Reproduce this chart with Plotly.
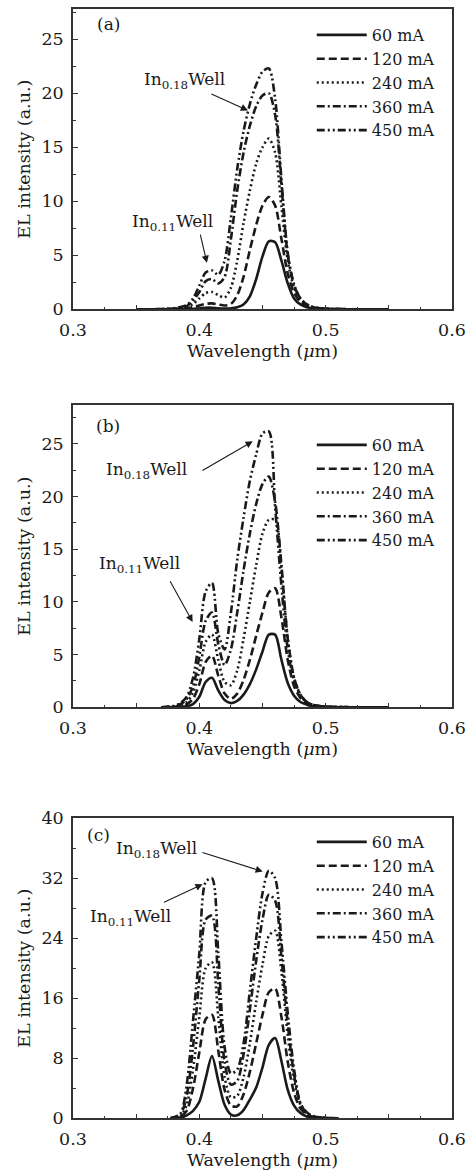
import plotly.graph_objects as go

currents = ["60 mA", "120 mA", "240 mA", "360 mA", "450 mA"]

# ---------- panel (a) ----------
xa = [0.35, 0.37, 0.38, 0.39, 0.395, 0.40, 0.405, 0.41, 0.415, 0.42, 0.425, 0.43, 0.435,
      0.44, 0.445, 0.45, 0.455, 0.46, 0.465, 0.47, 0.475, 0.48, 0.485, 0.49, 0.50, 0.52, 0.55]
a_60 = [0, 0, 0, 0.02, 0.05, 0.1, 0.15, 0.15, 0.1, 0.08, 0.1, 0.2, 0.45,
        1.2, 2.8, 4.9, 6.3, 6.2, 4.5, 2.4, 1.0, 0.45, 0.2, 0.1, 0.03, 0, 0]
a_120 = [0, 0, 0.02, 0.1, 0.2, 0.35, 0.5, 0.55, 0.45, 0.35, 0.5, 1.3, 3.0,
         5.5, 7.8, 9.6, 10.4, 9.6, 6.5, 3.3, 1.5, 0.7, 0.3, 0.15, 0.05, 0, 0]
a_240 = [0, 0.02, 0.05, 0.2, 0.5, 1.0, 1.5, 1.6, 1.3, 1.1, 2.0, 4.5, 8.0,
         11.0, 13.5, 15.0, 15.8, 14.5, 9.5, 4.5, 2.0, 0.9, 0.4, 0.2, 0.05, 0.01, 0]
a_360 = [0, 0.02, 0.08, 0.3, 0.8, 1.6, 2.6, 2.8, 2.4, 3.0, 6.5, 11.0, 14.5,
         17.0, 18.8, 19.8, 20.0, 18.0, 11.5, 5.0, 2.2, 1.0, 0.45, 0.2, 0.06, 0.01, 0]
a_450 = [0, 0.02, 0.1, 0.4, 1.0, 2.2, 3.4, 3.6, 3.2, 4.5, 8.5, 13.0, 16.5,
         19.0, 20.8, 22.0, 22.3, 19.5, 12.0, 5.2, 2.3, 1.0, 0.45, 0.2, 0.06, 0.01, 0]

# ---------- panel (b) ----------
xb = [0.37, 0.38, 0.385, 0.39, 0.395, 0.40, 0.405, 0.41, 0.415, 0.42, 0.425, 0.43, 0.435,
      0.44, 0.445, 0.45, 0.455, 0.46, 0.465, 0.47, 0.475, 0.48, 0.485, 0.49, 0.50, 0.52, 0.55]
b_60 = [0, 0.02, 0.05, 0.1, 0.3, 1.0, 2.4, 2.8, 1.6, 0.7, 0.4, 0.6, 1.2,
        2.2, 3.6, 5.3, 6.9, 6.9, 4.5, 2.3, 1.1, 0.5, 0.25, 0.1, 0.03, 0, 0]
b_120 = [0, 0.05, 0.1, 0.3, 0.8, 2.2, 4.3, 4.9, 3.0, 1.3, 0.8, 1.3, 2.6,
         4.5, 6.8, 9.0, 10.9, 11.3, 8.5, 4.5, 2.0, 0.9, 0.4, 0.18, 0.05, 0, 0]
b_240 = [0, 0.08, 0.2, 0.5, 1.4, 3.5, 6.2, 6.9, 4.5, 2.4, 2.1, 3.5, 6.5,
         10.0, 13.5, 16.5, 17.8, 17.8, 13.0, 6.5, 2.8, 1.2, 0.5, 0.22, 0.06, 0.01, 0]
b_360 = [0, 0.1, 0.3, 0.8, 2.0, 4.8, 8.2, 9.0, 6.0, 4.0, 5.5, 9.0, 13.0,
         16.5, 19.3, 21.2, 21.9, 19.5, 13.5, 6.5, 2.8, 1.2, 0.5, 0.22, 0.06, 0.01, 0]
b_450 = [0, 0.15, 0.4, 1.0, 2.8, 6.5, 11.0, 11.8, 7.0, 5.5, 9.0, 14.0, 18.0,
         21.5, 24.0, 26.0, 26.2, 19.0, 11.5, 5.5, 2.5, 1.1, 0.5, 0.22, 0.06, 0.01, 0]

# ---------- panel (c) ----------
xc = [0.377, 0.385, 0.39, 0.395, 0.40, 0.405, 0.41, 0.415, 0.42, 0.425, 0.43, 0.435,
      0.44, 0.445, 0.45, 0.455, 0.46, 0.465, 0.47, 0.475, 0.48, 0.485, 0.49, 0.50, 0.51]
c_60 = [0, 0.1, 0.4, 1.0, 2.2, 5.3, 8.3, 5.0, 1.8, 0.5, 0.4, 1.1,
        2.5, 4.1, 6.8, 9.8, 10.7, 7.6, 3.8, 1.7, 0.7, 0.25, 0.1, 0.02, 0]
c_120 = [0, 0.2, 1.0, 4.0, 8.8, 13.2, 13.8, 9.0, 3.8, 1.7, 1.6, 3.2,
         6.2, 10.0, 13.8, 16.8, 17.3, 13.5, 7.5, 3.4, 1.3, 0.5, 0.2, 0.03, 0]
c_240 = [0, 0.3, 1.8, 6.5, 13.5, 20.0, 20.8, 13.5, 5.5, 2.8, 3.0, 5.5,
         10.0, 15.5, 20.5, 24.3, 25.0, 19.5, 11.0, 5.0, 1.8, 0.6, 0.25, 0.04, 0]
c_360 = [0, 0.5, 3.0, 9.5, 18.5, 26.5, 27.0, 18.0, 7.5, 4.5, 5.0, 8.5,
         14.5, 21.0, 26.5, 29.8, 29.0, 21.5, 12.5, 5.8, 2.0, 0.7, 0.3, 0.05, 0]
c_450 = [0, 0.6, 4.5, 13.0, 22.0, 31.5, 32.0, 22.0, 9.5, 6.0, 6.5, 10.0,
         17.0, 24.0, 30.0, 33.0, 32.0, 23.5, 14.0, 6.5, 2.0, 0.8, 0.3, 0.05, 0]

x_ticks = [0.3, 0.35, 0.4, 0.45, 0.5, 0.55, 0.6]
x_ticktext = ["0.3", "", "0.4", "", "0.5", "", "0.6"]
ab_yticks = [0, 5, 10, 15, 20, 25]
c_yticks = [0, 8, 16, 24, 32, 40]

panels = [
    dict(x=xa, ys=[a_60, a_120, a_240, a_360, a_450], label="(a)", yr=[0, 27.8],
         yt=ab_yticks, ym=2.5, dom=[0.7363, 0.9923], leg="legend",
         lab=(0.3283, 26.4),
         w18=(0.3886, 21.2), a18=((0.4084, 20.0), (0.4385, 18.4)),
         w11=(0.379, 8.0), a11=((0.4005, 7.06), (0.406, 4.3)),
         legy=1 - 18 / 1173),
    dict(x=xb, ys=[b_60, b_120, b_240, b_360, b_450], label="(b)", yr=[0, 28.7],
         yt=ab_yticks, ym=2.5, dom=[0.39702, 0.65473], leg="legend2",
         lab=(0.3278, 26.7),
         w18=(0.358, 22.5), a18=((0.4013, 22.4), (0.4423, 25.25)),
         w11=(0.3524, 13.6), a11=((0.3762, 12.1), (0.3947, 8.1)),
         legy=1 - 428 / 1173),
    dict(x=xc, ys=[c_60, c_120, c_240, c_360, c_450], label="(c)", yr=[0, 40],
         yt=c_yticks, ym=4, dom=[0.04663, 0.30239], leg="legend3",
         lab=(0.3198, 37.8),
         w18=(0.3659, 35.8), a18=((0.4013, 35.5), (0.4502, 32.9)),
         w11=(0.3458, 26.8), a11=((0.3709, 28.7), (0.4026, 31.2)),
         legy=1 - 825 / 1173),
]

dashes = ["solid", "8px,4px", "2px,3px", "8px,3px,2px,3px", "8px,3px,2px,3px,2px,3px"]
FONT = "DejaVu Serif"
INK = "#1a1a1a"
AX = "#333333"

fig = go.Figure()
layout = dict(
    template="none",
    width=470, height=1173, margin=dict(l=73, r=18, t=0, b=0, autoexpand=False),
    paper_bgcolor="white", plot_bgcolor="white",
    font=dict(family=FONT, size=17, color=INK),
    annotations=[],
)

for i, p in enumerate(panels):
    n = "" if i == 0 else str(i + 1)
    xref, yref = "x" + n, "y" + n
    for k, ys in enumerate(p["ys"]):
        fig.add_trace(go.Scatter(
            x=p["x"], y=ys, mode="lines", name=currents[k],
            line=dict(color=INK, width=2.6, dash=dashes[k], shape="spline", smoothing=0.8),
            xaxis=xref, yaxis=yref, legend=p["leg"],
        ))
    layout["xaxis" + n] = dict(
        domain=[0, 1], range=[0.3, 0.6], anchor=yref, automargin=False,
        tickmode="array", tickvals=x_ticks, ticktext=x_ticktext,
        ticks="inside", ticklen=5, tickwidth=1.2, tickcolor=AX,
        minor=dict(dtick=0.025, tick0=0.3, ticks="inside", ticklen=3, tickcolor=AX),
        showline=True, linecolor=AX, linewidth=1.5, mirror=True,
        showgrid=False, zeroline=False, ticklabelstandoff=4,
        title=dict(text="Wavelength (<i>μ</i>m)", standoff=6, font=dict(size=17.5)),
        tickfont=dict(size=17.5),
    )
    layout["yaxis" + n] = dict(
        domain=p["dom"], range=p["yr"], anchor=xref, automargin=False,
        tickmode="array", tickvals=p["yt"],
        ticks="inside", ticklen=5, tickwidth=1.2, tickcolor=AX,
        minor=dict(dtick=p["ym"], tick0=0, ticks="inside", ticklen=3, tickcolor=AX),
        showline=True, linecolor=AX, linewidth=1.5, mirror=True,
        showgrid=False, zeroline=False, ticklabelstandoff=4,
        title=dict(text="EL intensity (a.u.)", standoff=6, font=dict(size=17.5)),
        tickfont=dict(size=17.5),
    )
    layout[p["leg"]] = dict(
        x=0.63, y=p["legy"], xanchor="left", yanchor="top",
        bgcolor="rgba(0,0,0,0)", borderwidth=0, itemwidth=50,
        font=dict(family=FONT, size=16, color=INK), tracegroupgap=0,
    )
    ann = layout["annotations"]
    ann.append(dict(x=p["lab"][0], y=p["lab"][1], xref=xref, yref=yref, text=p["label"],
                    showarrow=False, font=dict(size=17)))
    ann.append(dict(x=p["w18"][0], y=p["w18"][1], xref=xref, yref=yref,
                    text="In<sub>0.18</sub>Well", showarrow=False, font=dict(size=17)))
    ann.append(dict(x=p["w11"][0], y=p["w11"][1], xref=xref, yref=yref,
                    text="In<sub>0.11</sub>Well", showarrow=False, font=dict(size=17)))
    for (tail, head) in (p["a18"], p["a11"]):
        ann.append(dict(x=head[0], y=head[1], ax=tail[0], ay=tail[1],
                        xref=xref, yref=yref, axref=xref, ayref=yref,
                        text="", showarrow=True, arrowhead=2, arrowsize=1.3,
                        arrowwidth=1.1, arrowcolor=INK, standoff=0, startstandoff=0))

fig.update_layout(**layout)
fig.write_html("out.html", config={"displayModeBar": False},
               post_script="document.body.style.margin='0px';document.body.style.overflow='hidden';")
